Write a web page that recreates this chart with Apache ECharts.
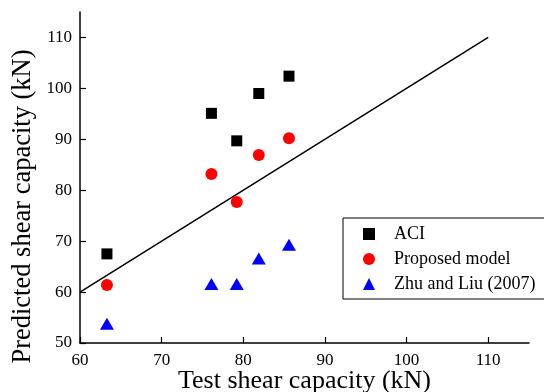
<!DOCTYPE html>
<html>
<head>
<meta charset="utf-8">
<script src="https://cdn.jsdelivr.net/npm/echarts@6/dist/echarts.min.js"></script>
<style>
  html, body { margin: 0; padding: 0; background: #fff; }
  #chart { width: 544px; height: 392px; }
</style>
</head>
<body>
<div id="chart"></div>
<script>
// test capacities (x) and predictions (y)
const testCap = [63.3, 76.1, 79.2, 81.9, 85.6];
const aciPred = [67.5, 95.1, 89.7, 99.0, 102.4];
const proposedPred = [61.4, 83.2, 77.7, 86.9, 90.2];
const zhuLiuPred = [53.8, 61.6, 61.6, 66.6, 69.3];
const refLine = [[60, 60], [110, 110]];
const xTicks = [60, 70, 80, 90, 100, 110];
const yTicks = [50, 60, 70, 80, 90, 100, 110];

const font = 'Liberation Serif';

function pairs(ys) {
  return testCap.map((x, i) => [x, ys[i]]);
}

const chart = echarts.init(document.getElementById('chart'));

chart.setOption({
  animation: false,
  textStyle: { fontFamily: font },
  grid: { left: 80, right: 15, top: 12, bottom: 49, outerBoundsMode: 'none', containLabel: false },
  xAxis: {
    type: 'value',
    min: 60,
    max: 115,
    name: 'Test shear capacity (kN)',
    nameLocation: 'middle',
    nameGap: 25,
    nameMoveOverlap: false,
    nameTextStyle: { fontFamily: font, fontSize: 26, color: '#000' },
    axisLine: { lineStyle: { color: '#000', width: 1.5 } },
    axisTick: { inside: true, length: 6, customValues: xTicks, lineStyle: { color: '#000', width: 1.2 } },
    axisLabel: { customValues: xTicks, fontFamily: font, fontSize: 17, color: '#000', margin: 9 },
    splitLine: { show: false }
  },
  yAxis: {
    type: 'value',
    min: 50,
    max: 115,
    name: 'Predicted shear capacity (kN)',
    nameLocation: 'middle',
    nameGap: 43,
    nameMoveOverlap: false,
    nameTextStyle: { fontFamily: font, fontSize: 26.5, color: '#000', padding: [0, 58, 0, 0] },
    axisLine: { lineStyle: { color: '#000', width: 1.5 } },
    axisTick: { inside: true, length: 6, customValues: yTicks, lineStyle: { color: '#000', width: 1.2 } },
    axisLabel: { customValues: yTicks, fontFamily: font, fontSize: 17, color: '#000', margin: 8 },
    splitLine: { show: false }
  },
  legend: {
    data: [
      { name: 'ACI', icon: 'rect' },
      { name: 'Proposed model', icon: 'circle' },
      { name: 'Zhu and Liu (2007)', icon: 'triangle' }
    ],
    orient: 'vertical',
    left: 343,
    top: 218,
    width: 200,
    backgroundColor: '#fff',
    borderColor: '#000',
    borderWidth: 1,
    borderRadius: 0,
    padding: [7, 26, 6, 20],
    itemWidth: 12,
    itemHeight: 12,
    itemGap: 7,
    textStyle: { fontFamily: font, fontSize: 18, color: '#000', padding: [0, 0, 0, 14] }
  },
  series: [
    {
      name: 'ref',
      type: 'line',
      data: refLine,
      symbol: 'none',
      lineStyle: { color: '#000', width: 1.5 },
      z: 1
    },
    {
      name: 'ACI',
      type: 'scatter',
      symbol: 'rect',
      symbolSize: 11,
      itemStyle: { color: '#000', opacity: 1 },
      data: pairs(aciPred)
    },
    {
      name: 'Proposed model',
      type: 'scatter',
      symbol: 'circle',
      symbolSize: 12,
      itemStyle: { color: '#ff0000', opacity: 1 },
      data: pairs(proposedPred)
    },
    {
      name: 'Zhu and Liu (2007)',
      type: 'scatter',
      symbol: 'triangle',
      symbolSize: [14, 12],
      itemStyle: { color: '#0000ff', opacity: 1 },
      data: pairs(zhuLiuPred)
    }
  ]
});
</script>
</body>
</html>
